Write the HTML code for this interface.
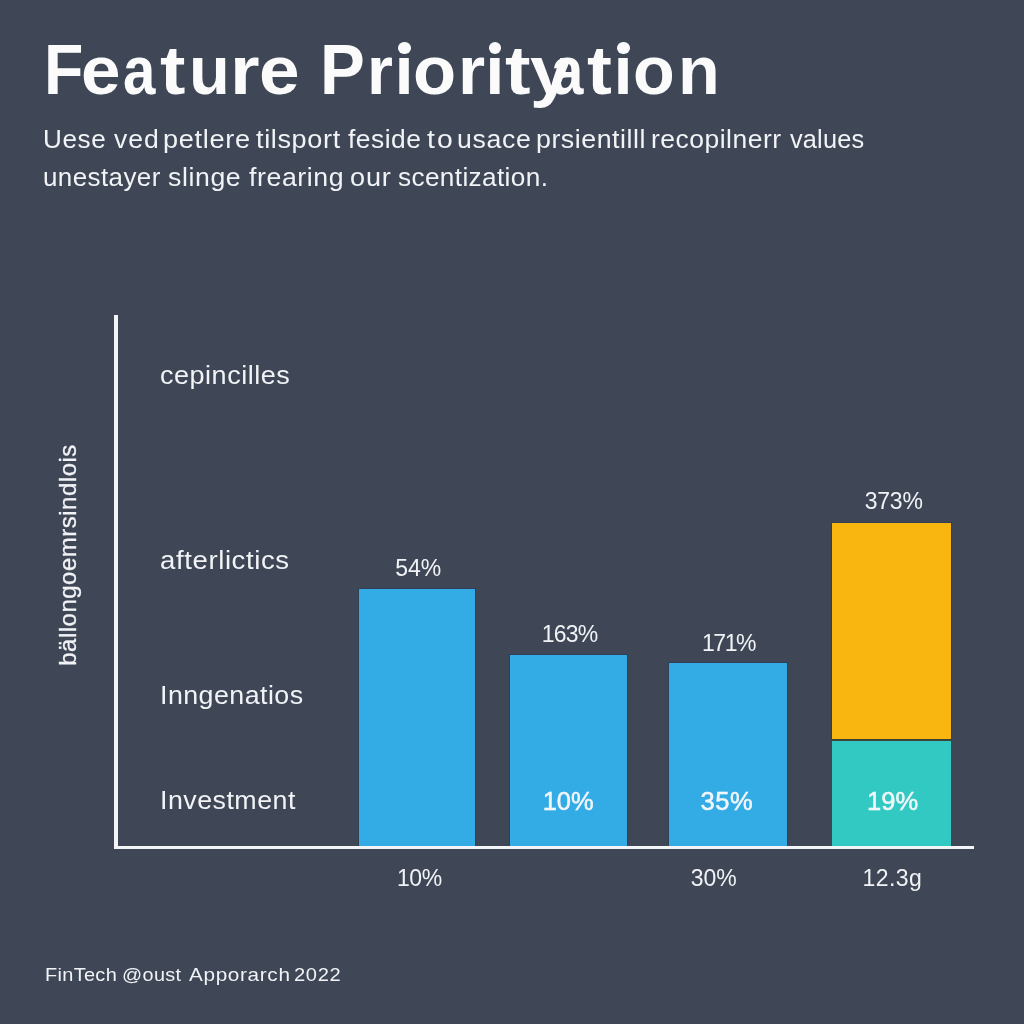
<!DOCTYPE html>
<html><head><meta charset="utf-8">
<style>
html,body{margin:0;padding:0;}
body{width:1024px;height:1024px;background:#3f4756;position:relative;overflow:hidden;font-family:"Liberation Sans",sans-serif;color:#f1f3f6;}
.t{position:absolute;white-space:nowrap;line-height:1;-webkit-text-stroke:0px #f1f3f6;}
.bar{position:absolute;}
.sh{box-shadow:0 0 0 1px rgba(28,52,82,0.4);}
</style></head><body><div id="wrap" style="position:absolute;left:0;top:0;width:1024px;height:1024px;will-change:transform;">
<span class="t" style="left:43.87px;top:34.82px;font-size:70.5px;font-weight:bold;color:#fbfbfb;transform:scaleX(0.914);transform-origin:0 0;">F</span>
<span class="t" style="left:81.07px;top:36.51px;font-size:68.5px;font-weight:bold;color:#fbfbfb;transform:scaleX(1.036);transform-origin:0 0;">e</span>
<span class="t" style="left:122.78px;top:36.51px;font-size:68.5px;font-weight:bold;color:#fbfbfb;transform:scaleX(0.850);transform-origin:0 0;">a</span>
<span class="t" style="left:160.33px;top:36.51px;font-size:68.5px;font-weight:bold;color:#fbfbfb;transform:scaleX(1.114);transform-origin:0 0;">t</span>
<span class="t" style="left:188.81px;top:36.51px;font-size:68.5px;font-weight:bold;color:#fbfbfb;transform:scaleX(0.976);transform-origin:0 0;">u</span>
<span class="t" style="left:230.21px;top:36.51px;font-size:68.5px;font-weight:bold;color:#fbfbfb;transform:scaleX(1.109);transform-origin:0 0;">r</span>
<span class="t" style="left:258.88px;top:36.51px;font-size:68.5px;font-weight:bold;color:#fbfbfb;transform:scaleX(1.064);transform-origin:0 0;">e</span>
<span class="t" style="left:319.66px;top:34.82px;font-size:70.5px;font-weight:bold;color:#fbfbfb;transform:scaleX(0.953);transform-origin:0 0;">P</span>
<span class="t" style="left:367.42px;top:36.51px;font-size:68.5px;font-weight:bold;color:#fbfbfb;transform:scaleX(0.973);transform-origin:0 0;">r</span>
<span class="t" style="left:394.50px;top:36.51px;font-size:68.5px;font-weight:bold;color:#fbfbfb;">ı</span>
<div style="position:absolute;left:398.40px;top:42px;width:12.2px;height:11.6px;border-radius:50%;background:#fbfbfb;"></div>
<span class="t" style="left:413.10px;top:36.51px;font-size:68.5px;font-weight:bold;color:#fbfbfb;transform:scaleX(1.030);transform-origin:0 0;">o</span>
<span class="t" style="left:458.02px;top:36.51px;font-size:68.5px;font-weight:bold;color:#fbfbfb;transform:scaleX(1.018);transform-origin:0 0;">r</span>
<span class="t" style="left:485.35px;top:36.51px;font-size:68.5px;font-weight:bold;color:#fbfbfb;">ı</span>
<div style="position:absolute;left:489.25px;top:42px;width:12.2px;height:11.6px;border-radius:50%;background:#fbfbfb;"></div>
<span class="t" style="left:504.72px;top:36.51px;font-size:68.5px;font-weight:bold;color:#fbfbfb;transform:scaleX(1.119);transform-origin:0 0;">t</span>
<span class="t" style="left:530.07px;top:36.51px;font-size:68.5px;font-weight:bold;color:#fbfbfb;transform:scaleX(1.089);transform-origin:0 0;">y</span>
<span class="t" style="left:550.88px;top:36.51px;font-size:68.5px;font-weight:bold;color:#fbfbfb;transform:scaleX(0.850);transform-origin:0 0;">a</span>
<span class="t" style="left:586.86px;top:36.51px;font-size:68.5px;font-weight:bold;color:#fbfbfb;transform:scaleX(1.090);transform-origin:0 0;">t</span>
<span class="t" style="left:613.55px;top:36.51px;font-size:68.5px;font-weight:bold;color:#fbfbfb;">ı</span>
<div style="position:absolute;left:617.45px;top:42px;width:12.2px;height:11.6px;border-radius:50%;background:#fbfbfb;"></div>
<span class="t" style="left:633.41px;top:36.51px;font-size:68.5px;font-weight:bold;color:#fbfbfb;transform:scaleX(0.997);transform-origin:0 0;">o</span>
<span class="t" style="left:677.51px;top:36.51px;font-size:68.5px;font-weight:bold;color:#fbfbfb;transform:scaleX(0.997);transform-origin:0 0;">n</span>
<span class="t" style="left:43.11px;top:127.44px;font-size:25px;letter-spacing:0.60px;color:#f1f3f6;transform:scaleX(1.0439);transform-origin:0 0;">Uese</span>
<span class="t" style="left:113.50px;top:127.44px;font-size:25px;letter-spacing:0.90px;color:#f1f3f6;transform:scaleX(1.0625);transform-origin:0 0;">ved</span>
<span class="t" style="left:162.63px;top:127.44px;font-size:25px;letter-spacing:0.63px;color:#f1f3f6;transform:scaleX(1.0844);transform-origin:0 0;">petlere</span>
<span class="t" style="left:256.40px;top:127.44px;font-size:25px;letter-spacing:0.59px;color:#f1f3f6;transform:scaleX(1.0821);transform-origin:0 0;">tilsport</span>
<span class="t" style="left:348.20px;top:127.44px;font-size:25px;letter-spacing:0.46px;color:#f1f3f6;transform:scaleX(1.0559);transform-origin:0 0;">feside</span>
<span class="t" style="left:427.30px;top:127.44px;font-size:25px;letter-spacing:1.96px;color:#f1f3f6;transform:scaleX(1.1318);transform-origin:0 0;">to</span>
<span class="t" style="left:457.37px;top:127.44px;font-size:25px;letter-spacing:0.63px;color:#f1f3f6;transform:scaleX(1.0652);transform-origin:0 0;">usace</span>
<span class="t" style="left:536.06px;top:127.44px;font-size:25px;letter-spacing:0.48px;color:#f1f3f6;transform:scaleX(1.0717);transform-origin:0 0;">prsientilll</span>
<span class="t" style="left:650.88px;top:127.44px;font-size:25px;letter-spacing:0.48px;color:#f1f3f6;transform:scaleX(1.0579);transform-origin:0 0;">recopilnerr</span>
<span class="t" style="left:790.00px;top:127.44px;font-size:25px;letter-spacing:0.16px;color:#f1f3f6;transform:scaleX(1.0137);transform-origin:0 0;">values</span>
<span class="t" style="left:43.12px;top:164.64px;font-size:25px;letter-spacing:0.41px;color:#f1f3f6;transform:scaleX(1.0378);transform-origin:0 0;">unestayer</span>
<span class="t" style="left:168.13px;top:164.64px;font-size:25px;letter-spacing:0.58px;color:#f1f3f6;transform:scaleX(1.0652);transform-origin:0 0;">slinge</span>
<span class="t" style="left:248.75px;top:164.64px;font-size:25px;letter-spacing:0.56px;color:#f1f3f6;transform:scaleX(1.0672);transform-origin:0 0;">frearing</span>
<span class="t" style="left:349.92px;top:164.64px;font-size:25px;letter-spacing:0.80px;color:#f1f3f6;transform:scaleX(1.0833);transform-origin:0 0;">our</span>
<span class="t" style="left:398.35px;top:164.64px;font-size:25px;letter-spacing:0.35px;color:#f1f3f6;transform:scaleX(1.0471);transform-origin:0 0;">scentization.</span>
<div class="t" style="left:68px;top:555px;font-size:24px;letter-spacing:0.5px;-webkit-text-stroke:0.3px #f1f3f6;transform:translate(-50%,-50%) rotate(-90deg);">bällongoemrsindlois</div>
<span class="t" style="left:159.54px;top:362.81px;font-size:25.5px;letter-spacing:0.49px;color:#f1f3f6;transform:scaleX(1.0591);transform-origin:0 0;">cepincilles</span>
<span class="t" style="left:160.17px;top:548.11px;font-size:25.5px;letter-spacing:0.56px;color:#f1f3f6;transform:scaleX(1.0805);transform-origin:0 0;">afterlictics</span>
<span class="t" style="left:160.40px;top:682.81px;font-size:25.5px;letter-spacing:0.43px;color:#f1f3f6;transform:scaleX(1.0511);transform-origin:0 0;">Inngenatios</span>
<span class="t" style="left:160.10px;top:788.11px;font-size:25.5px;letter-spacing:0.46px;color:#f1f3f6;transform:scaleX(1.0504);transform-origin:0 0;">Investment</span>
<div class="bar sh" style="left:359px;top:589px;width:116px;height:257px;background:#33ace6;"></div>
<div class="bar sh" style="left:510px;top:654.5px;width:117.4px;height:191.5px;background:#33ace6;"></div>
<div class="bar sh" style="left:669.3px;top:662.7px;width:118px;height:183.3px;background:#33ace6;"></div>
<div class="bar sh" style="left:832.3px;top:523.2px;width:118.7px;height:215.5px;background:#f9b510;"></div>
<div class="bar" style="left:832.3px;top:738.7px;width:118.7px;height:2px;background:#3d4438;"></div>
<div class="bar" style="left:832.3px;top:740.7px;width:118.7px;height:105.3px;background:#33c9c3;"></div>
<div class="bar" style="left:114.4px;top:315.2px;width:3.2px;height:533.8px;background:#f4f5f7;"></div>
<div class="bar" style="left:114.4px;top:846px;width:859.6px;height:3px;background:#f4f5f7;"></div>
<div class="t" style="left:118.30px;width:600px;text-align:center;top:556.53px;font-size:23px;letter-spacing:0px;font-weight:normal;color:#f1f3f6;">54%</div>
<div class="t" style="left:269.60px;width:600px;text-align:center;top:622.73px;font-size:23px;letter-spacing:-0.8px;font-weight:normal;color:#f1f3f6;">163%</div>
<div class="t" style="left:428.50px;width:600px;text-align:center;top:631.53px;font-size:23px;letter-spacing:-1.4px;font-weight:normal;color:#f1f3f6;">171%</div>
<div class="t" style="left:593.70px;width:600px;text-align:center;top:489.93px;font-size:23px;letter-spacing:-0.2px;font-weight:normal;color:#f1f3f6;">373%</div>
<div class="t" style="left:268.20px;width:600px;text-align:center;top:789.21px;font-size:25.5px;letter-spacing:0px;font-weight:normal;color:#f1f3f6;-webkit-text-stroke:0.45px #fbfdfe;">10%</div>
<div class="t" style="left:426.90px;width:600px;text-align:center;top:789.41px;font-size:25.5px;letter-spacing:0.6px;font-weight:normal;color:#f1f3f6;-webkit-text-stroke:0.45px #fbfdfe;">35%</div>
<div class="t" style="left:592.60px;width:600px;text-align:center;top:789.21px;font-size:25.5px;letter-spacing:0px;font-weight:normal;color:#f1f3f6;-webkit-text-stroke:0.45px #fbfdfe;">19%</div>
<div class="t" style="left:119.30px;width:600px;text-align:center;top:866.53px;font-size:23px;letter-spacing:-0.4px;font-weight:normal;color:#f1f3f6;">10%</div>
<div class="t" style="left:413.80px;width:600px;text-align:center;top:866.53px;font-size:23px;letter-spacing:0px;font-weight:normal;color:#f1f3f6;">30%</div>
<div class="t" style="left:592.40px;width:600px;text-align:center;top:866.63px;font-size:23px;letter-spacing:0.4px;font-weight:normal;color:#f1f3f6;">12.3g</div>
<span class="t" style="left:44.82px;top:965.84px;font-size:18.5px;letter-spacing:0.30px;color:#f1f3f6;transform:scaleX(1.0773);transform-origin:0 0;">FinTech</span>
<span class="t" style="left:122.23px;top:965.84px;font-size:18.5px;letter-spacing:0.36px;color:#f1f3f6;transform:scaleX(1.0704);transform-origin:0 0;">@oust</span>
<span class="t" style="left:189.10px;top:965.84px;font-size:18.5px;letter-spacing:0.59px;color:#f1f3f6;transform:scaleX(1.1202);transform-origin:0 0;">Apporarch</span>
<span class="t" style="left:294.31px;top:965.84px;font-size:18.5px;letter-spacing:0.57px;color:#f1f3f6;transform:scaleX(1.0881);transform-origin:0 0;">2022</span>
</div></body></html>
